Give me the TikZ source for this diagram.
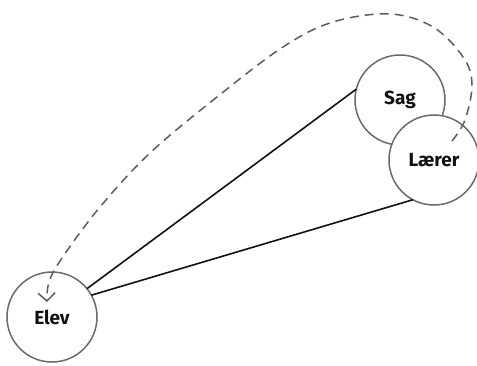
\documentclass[tikz,border=0pt]{standalone}
\usepackage{fontspec}
\setmainfont{Fira Sans}
\usetikzlibrary{arrows.meta}
\definecolor{ringgray}{HTML}{6A6A6A}
\definecolor{dashgray}{HTML}{5E5E5E}
\definecolor{inkblack}{HTML}{111111}
\begin{document}
\begin{tikzpicture}[x=1pt,y=-1pt,
  person/.style={circle,draw=ringgray,line width=1.5pt,fill=white,
    minimum size=90pt,inner sep=0pt,outer sep=0pt,
    font=\fontsize{19}{20}\selectfont\bfseries,text=inkblack},
  link/.style={inkblack,line width=1.6pt},
  loopback/.style={dashgray,line width=1.5pt,dash pattern=on 9pt off 6pt,
    -{Straight Barb[length=8pt,width=17pt]}}]
\useasboundingbox (0,0) rectangle (477,365);
% the three parties
\node[person] (sag)   at (400,100) {Sag};
\node[person] (laerer) at (434,160) {Lærer};
\node[person] (elev)  at (52,317) {Elev};
% relations from the pupil
\draw[link] (elev.39) -- (sag.166);
\draw[link] (elev.29) -- (laerer.242);
% dashed return path from the teacher to the pupil
\coordinate (dstart) at (452,141);
\coordinate (dend) at (47,302);
\draw[loopback] plot[smooth,tension=0.6] coordinates {
  (dstart) (465,120) (472,84) (463,57) (433,27) (390,14) (333,22)
  (283,47) (217,97) (150,153) (100,207) (62,258) (49,282) (dend)};
\end{tikzpicture}
\end{document}
